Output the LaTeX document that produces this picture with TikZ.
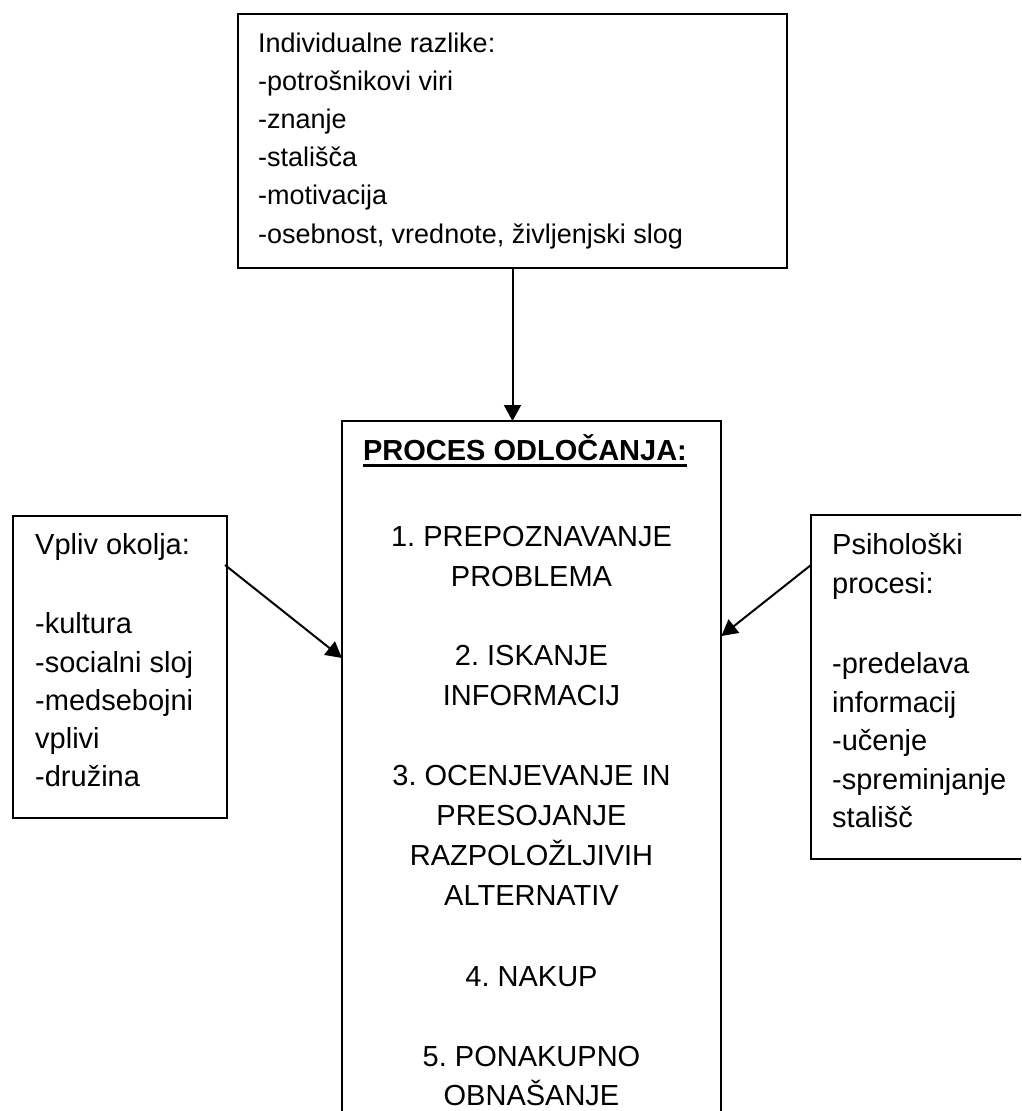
\documentclass[tikz,border=0pt]{standalone}
\usepackage{fontspec}
\setmainfont{Liberation Sans}
\usetikzlibrary{arrows.meta,calc}
\frenchspacing
\begin{document}
\begin{tikzpicture}[x=1pt,y=-1pt,
  boxline/.style={line width=2pt},
  conn/.style={line width=2pt,-{Triangle[length=16pt,width=17pt]}},
  txtsmall/.style={font=\fontsize{27}{32}\selectfont, inner sep=0pt},
  txt/.style={font=\fontsize{29}{34}\selectfont, inner sep=0pt},
  frame/.style={draw, line width=2pt, inner sep=0pt, anchor=north west, rectangle},
  openframe/.style={inner sep=0pt, anchor=north west, rectangle}
]
\useasboundingbox (0,0) rectangle (1021,1111);
\clip (0,0) rectangle (1021,1111);
% boxes
\node[frame, minimum width=549pt, minimum height=254pt] (top) at (237,13) {};
\node[frame, minimum width=214pt, minimum height=302pt] (lbox) at (12,515) {};
\node[openframe, minimum width=379pt, minimum height=720pt] (ctr) at (342,421) {};
\draw[boxline] (ctr.south west) -- (ctr.north west) -- (ctr.north east) -- (ctr.south east);
\node[openframe, minimum width=240pt, minimum height=344pt] (rbox) at (811,515) {};
\draw[boxline] (rbox.north east) -- (rbox.north west) -- (rbox.south west) -- (rbox.south east);
% top box text
\foreach \t [count=\i from 0] in {Individualne razlike:, -potrošnikovi viri, -znanje, -stališča, -motivacija, {-osebnost, vrednote, življenjski slog}}
  \node[txtsmall, anchor=base west] (t\i) at (258,{52+38.2*\i}) {\t};
% left box text
\foreach \t/\yy [count=\i] in {Vpliv okolja:/554, -kultura/633, -socialni sloj/672, -medsebojni/710, vplivi/748, -družina/786}
  \node[txt, anchor=base west] (l\i) at (35,\yy) {\t};
% right box text
\foreach \t/\yy [count=\i] in {Psihološki/554, procesi:/593, -predelava/673, informacij/712, -učenje/750, -spreminjanje/789, stališč/827}
  \node[txt, anchor=base west] (r\i) at (832,\yy) {\t};
% center text
\node[txt, font=\fontsize{29}{34}\selectfont\bfseries, anchor=base] (head) at (525,460) {PROCES ODLOČANJA:};
\draw[line width=2.5pt] ([yshift=-5.5pt]head.base west) -- ([yshift=-5.5pt]head.base east);
\foreach \t/\yy [count=\i] in {1. PREPOZNAVANJE/546, PROBLEMA/586, 2. ISKANJE/665, INFORMACIJ/705, 3. OCENJEVANJE IN/785, PRESOJANJE/825, RAZPOLOŽLJIVIH/865, ALTERNATIV/905, 4. NAKUP/986, 5. PONAKUPNO/1066, OBNAŠANJE/1105.5}
  \node[txt, anchor=base] (c\i) at (531.5,\yy) {\t};
% connectors
\draw[conn] (top.south) -- (top.south |- ctr.north);
\coordinate (ls) at ($(lbox.north east)+(-3,50)$);
\coordinate (le) at ($(ctr.north west)+(0,237)$);
\draw[conn] (ls) -- (le);
\coordinate (rs) at ($(rbox.north west)+(0,50)$);
\coordinate (re) at ($(ctr.north east)+(0,215)$);
\draw[conn] (rs) -- (re);
\end{tikzpicture}
\end{document}
